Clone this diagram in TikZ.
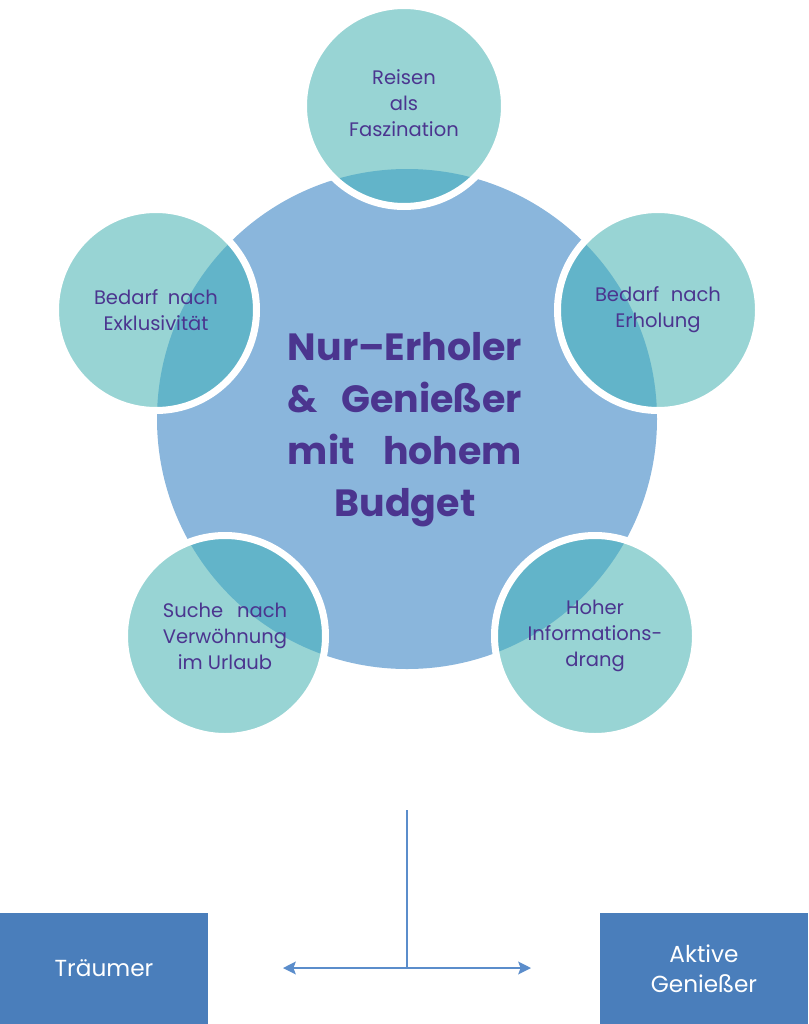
\documentclass[tikz,border=0pt]{standalone}
\usepackage{fontspec}
\usepackage{calc}
\setmainfont{Poppins}
\usetikzlibrary{arrows.meta}

\definecolor{hubblue}{HTML}{8AB6DC}
\definecolor{topicteal}{HTML}{98D4D4}
\definecolor{overlapteal}{HTML}{62B4C9}
\definecolor{inkpurple}{HTML}{4B358F}
\definecolor{laneblue}{HTML}{4A7EBB}
\definecolor{linkblue}{HTML}{5B8DCB}

% stretch a line to the width of another text
\newcommand{\spreadto}[2]{\makebox[\widthof{#1}][s]{#2}}

\begin{document}
\begin{tikzpicture}[
    hub/.style={circle, fill=hubblue, minimum size=12.5cm, inner sep=0pt},
    title/.style={text=inkpurple, align=center, font=\fontsize{27}{37}\selectfont\bfseries},
    topic/.style={circle, fill=topicteal, draw=white, line width=0.175cm, minimum size=5.025cm, inner sep=0pt, text=inkpurple, align=center, font=\fontsize{13.9}{18.5}\selectfont,
        path picture={\fill[overlapteal] (hub.center) circle (6.25cm);}},
    lane/.style={fill=laneblue, minimum width=5.2cm, minimum height=2.775cm, inner sep=0pt, text=white, align=center, font=\fontsize{16.5}{21.3}\selectfont},
    link/.style={linkblue, line width=1.1pt}
]
    \useasboundingbox (0, 0) rectangle (20.2, -25.6);

    \node[hub] (hub) at (10.175, -10.475) {};
    \node[title] (name) at (10.125, -10.75) {Nur–Erholer\\\spreadto{Nur–Erholer}{\& Genießer}\\\spreadto{Nur–Erholer}{mit hohem}\\Budget};

    \node[topic] (travel) at (10.1, -2.65) {Reisen\\als\\Faszination\vphantom{g}};
    \node[topic] (exclusive) at (3.9, -7.75) {\makebox[3.1cm][s]{Bedarf nach}\\Exklusivität};
    \node[topic] (recovery) at (16.45, -7.75) {\makebox[3.15cm][s]{Bedarf nach}\\Erholung};
    \node[topic] (pamper) at (5.625, -15.9) {\spreadto{Verwöhnung}{Suche nach}\\Verwöhnung\\im Urlaub};
    \node[topic] (info) at (14.875, -15.9) {Hoher\\Informations-\\drang};

    \node[lane] (dreamer) at (2.6, -24.2125) {Träumer};
    \node[lane] (active) at (17.6, -24.2125) {Aktive\\Genießer};

    \coordinate (stem) at (10.175, -20.25);
    \coordinate (fork) at (10.175, -24.2);
    \coordinate (west) at (7.075, -24.2);
    \coordinate (east) at (13.275, -24.2);

    \draw[link] (stem) -- (fork);
    \draw[link, {Stealth[length=0.32cm, width=0.32cm, inset=0.06cm]}-{Stealth[length=0.32cm, width=0.32cm, inset=0.06cm]}] (west) -- (east);
\end{tikzpicture}
\end{document}
